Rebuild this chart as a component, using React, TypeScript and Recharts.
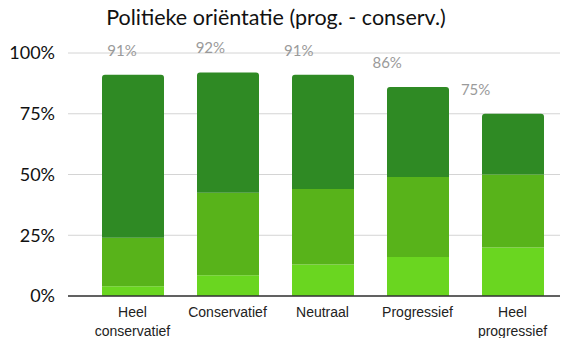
import React from 'react';
import { BarChart, Bar, XAxis, YAxis, CartesianGrid, LabelList } from 'recharts';

const categories = ['Heel\nconservatief', 'Conservatief', 'Neutraal', 'Progressief', 'Heel\nprogressief'];
const lightValues = [4, 8.5, 13, 16, 20];
const midValues = [20, 34, 31, 33, 30];
const darkValues = [67, 49.5, 47, 37, 25];
const totals = [91, 92, 91, 86, 75];
const yTicks = [0, 25, 50, 75, 100];

const data = categories.map((name, i) => ({
  name,
  light: lightValues[i],
  mid: midValues[i],
  dark: darkValues[i],
  total: totals[i],
}));

const CategoryTick = (props: any) => {
  const { x, y, payload } = props;
  const lines = String(payload.value).split('\n');
  return (
    <g transform={`translate(${x},${y})`}>
      {lines.map((line: string, i: number) => (
        <text
          key={i}
          x={0}
          y={13 + i * 19}
          textAnchor="middle"
          fill="#222"
          style={{ fontSize: 14, fontFamily: '"Liberation Sans", Arial, sans-serif' }}
        >
          {line}
        </text>
      ))}
    </g>
  );
};

const App = () => {
  return (
    <div style={{ position: 'absolute', left: 0, top: 0, width: 562, height: 338, background: '#fff' }}>
      <div
        style={{
          position: 'absolute',
          left: 0,
          top: 4,
          width: 552,
          textAlign: 'center',
          fontFamily: 'Lato, sans-serif',
          fontSize: 21.5,
          color: '#111',
        }}
      >
        Politieke oriëntatie (prog. - conserv.)
      </div>
      <BarChart width={562} height={338} data={data} margin={{ top: 53, right: 2, bottom: 0, left: 0 }}>
        <CartesianGrid vertical={false} stroke="#d4d4d4" strokeWidth={1} xAxisId="main" />
        <XAxis
          dataKey="name"
          xAxisId="main"
          height={42}
          padding={{ left: 17, right: 0 }}
          tickLine={false}
          axisLine={{ stroke: '#333', strokeWidth: 1.5 }}
          tick={<CategoryTick />}
          interval={0}
        />
        <XAxis dataKey="name" xAxisId="lbl" hide height={0} padding={{ left: 10, right: 40 }} />
        <YAxis
          domain={[0, 100]}
          ticks={yTicks}
          width={68}
          axisLine={false}
          tickLine={false}
          tickSize={0}
          tickMargin={13}
          tickFormatter={(v: number) => `${v}%`}
          tick={{ fill: '#111', fontSize: 18, fontFamily: 'Lato, sans-serif' }}
        />
        <Bar dataKey="light" stackId="a" xAxisId="main" fill="#6ad620" barSize={62} isAnimationActive={false} />
        <Bar dataKey="mid" stackId="a" xAxisId="main" fill="#58b31a" barSize={62} isAnimationActive={false} />
        <Bar dataKey="dark" stackId="a" xAxisId="main" fill="#2f8a24" barSize={62} radius={[3, 3, 0, 0]} isAnimationActive={false} />
        <Bar dataKey="total" xAxisId="lbl" fill="none" barSize={30} isAnimationActive={false}>
          <LabelList
            dataKey="total"
            position="top"
            offset={19}
            formatter={(v: number) => `${v}%`}
            fill="#9a9a9a"
            style={{ fontSize: 15, fontFamily: 'Lato, sans-serif' }}
          />
        </Bar>
      </BarChart>
    </div>
  );
};

export default App;
